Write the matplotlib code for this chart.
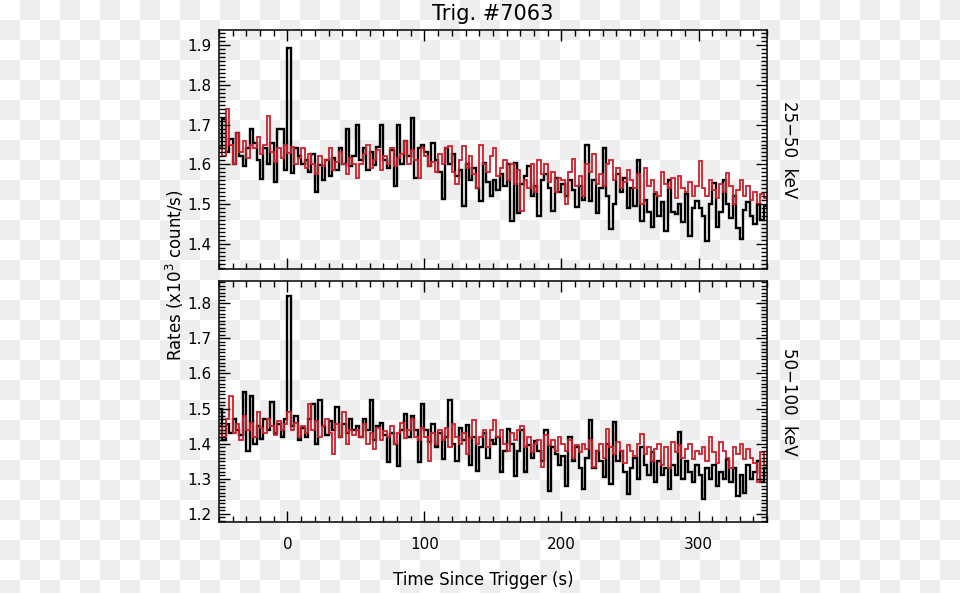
import numpy as np
import matplotlib.pyplot as plt
from matplotlib.ticker import MultipleLocator

# light curve bins: 2.5 s wide, from -50 s to 350 s (rates in 10^3 count/s)
t_start = -50.0
bin_width = 2.5

# 25-50 keV
low_black = [
    1.640, 1.715, 1.630, 1.665, 1.600, 1.680, 1.620, 1.595, 1.640, 1.690, 1.655, 1.610, 1.563, 1.640, 1.600, 1.655, 1.555, 1.690, 1.690, 1.585,
    1.893, 1.578, 1.640, 1.622, 1.600, 1.612, 1.580, 1.625, 1.532, 1.598, 1.560, 1.610, 1.570, 1.615, 1.585, 1.640, 1.600, 1.690, 1.595, 1.620,
    1.700, 1.612, 1.640, 1.585, 1.630, 1.598, 1.645, 1.700, 1.610, 1.590, 1.635, 1.546, 1.700, 1.600, 1.660, 1.620, 1.717, 1.565, 1.640, 1.650,
    1.630, 1.595, 1.654, 1.610, 1.580, 1.512, 1.640, 1.600, 1.625, 1.570, 1.585, 1.496, 1.600, 1.560, 1.590, 1.540, 1.508, 1.604, 1.555, 1.520,
    1.560, 1.535, 1.575, 1.545, 1.600, 1.458, 1.604, 1.479, 1.550, 1.570, 1.596, 1.520, 1.545, 1.470, 1.560, 1.575, 1.540, 1.483, 1.565, 1.530,
    1.550, 1.520, 1.560, 1.535, 1.492, 1.545, 1.510, 1.650, 1.508, 1.560, 1.479, 1.540, 1.642, 1.520, 1.437, 1.500, 1.575, 1.530, 1.565, 1.490,
    1.540, 1.495, 1.612, 1.458, 1.510, 1.480, 1.442, 1.525, 1.470, 1.505, 1.433, 1.562, 1.480, 1.475, 1.500, 1.455, 1.525, 1.421, 1.490, 1.508,
    1.490, 1.470, 1.408, 1.500, 1.554, 1.442, 1.480, 1.560, 1.500, 1.465, 1.520, 1.440, 1.413, 1.485, 1.505, 1.470, 1.450, 1.500, 1.460, 1.495,
]
low_red = [
    1.640, 1.620, 1.740, 1.650, 1.600, 1.680, 1.630, 1.660, 1.615, 1.650, 1.640, 1.670, 1.625, 1.650, 1.721, 1.630, 1.605, 1.640, 1.615, 1.650,
    1.628, 1.645, 1.600, 1.615, 1.640, 1.590, 1.625, 1.600, 1.575, 1.620, 1.595, 1.610, 1.640, 1.585, 1.605, 1.630, 1.600, 1.575, 1.615, 1.600,
    1.565, 1.600, 1.625, 1.650, 1.590, 1.610, 1.635, 1.585, 1.620, 1.600, 1.640, 1.595, 1.615, 1.625, 1.658, 1.600, 1.635, 1.610, 1.566, 1.640,
    1.620, 1.595, 1.605, 1.580, 1.625, 1.600, 1.640, 1.646, 1.580, 1.550, 1.610, 1.646, 1.590, 1.620, 1.575, 1.542, 1.650, 1.600, 1.580, 1.620,
    1.642, 1.570, 1.590, 1.610, 1.560, 1.600, 1.550, 1.585, 1.483, 1.560, 1.540, 1.600, 1.530, 1.612, 1.575, 1.600, 1.555, 1.580, 1.530, 1.565,
    1.560, 1.500, 1.580, 1.613, 1.545, 1.570, 1.520, 1.600, 1.580, 1.625, 1.550, 1.575, 1.545, 1.600, 1.612, 1.560, 1.590, 1.540, 1.555, 1.585,
    1.560, 1.540, 1.575, 1.500, 1.592, 1.545, 1.560, 1.530, 1.520, 1.580, 1.550, 1.540, 1.565, 1.515, 1.570, 1.540, 1.530, 1.555, 1.520, 1.545,
    1.608, 1.540, 1.520, 1.560, 1.535, 1.515, 1.550, 1.530, 1.579, 1.545, 1.500, 1.535, 1.560, 1.520, 1.545, 1.510, 1.530, 1.500, 1.525, 1.515,
]

# 50-100 keV
high_black = [
    1.500, 1.410, 1.455, 1.430, 1.470, 1.440, 1.425, 1.547, 1.380, 1.537, 1.400, 1.450, 1.412, 1.470, 1.440, 1.518, 1.430, 1.455, 1.420, 1.470,
    1.820, 1.450, 1.480, 1.410, 1.445, 1.420, 1.470, 1.513, 1.400, 1.523, 1.450, 1.425, 1.465, 1.440, 1.504, 1.420, 1.455, 1.430, 1.470, 1.440,
    1.450, 1.420, 1.470, 1.440, 1.523, 1.410, 1.450, 1.460, 1.425, 1.347, 1.430, 1.400, 1.337, 1.440, 1.485, 1.420, 1.480, 1.440, 1.347, 1.513,
    1.440, 1.405, 1.456, 1.390, 1.430, 1.356, 1.420, 1.523, 1.400, 1.350, 1.445, 1.410, 1.453, 1.340, 1.420, 1.323, 1.390, 1.430, 1.360, 1.410,
    1.400, 1.420, 1.318, 1.380, 1.442, 1.400, 1.309, 1.380, 1.440, 1.318, 1.395, 1.360, 1.409, 1.380, 1.350, 1.440, 1.266, 1.390, 1.370, 1.340,
    1.365, 1.280, 1.420, 1.350, 1.390, 1.330, 1.270, 1.360, 1.466, 1.330, 1.380, 1.350, 1.304, 1.400, 1.285, 1.461, 1.350, 1.380, 1.320, 1.256,
    1.330, 1.360, 1.300, 1.390, 1.340, 1.310, 1.375, 1.290, 1.350, 1.310, 1.330, 1.270, 1.340, 1.310, 1.432, 1.300, 1.350, 1.320, 1.290, 1.340,
    1.310, 1.242, 1.330, 1.300, 1.340, 1.280, 1.320, 1.300, 1.355, 1.290, 1.330, 1.250, 1.310, 1.260, 1.340, 1.300, 1.320, 1.350, 1.290, 1.330,
]
high_red = [
    1.450, 1.420, 1.470, 1.537, 1.430, 1.455, 1.410, 1.480, 1.440, 1.460, 1.420, 1.490, 1.445, 1.430, 1.470, 1.450, 1.425, 1.465, 1.440, 1.455,
    1.490, 1.440, 1.460, 1.420, 1.450, 1.430, 1.513, 1.440, 1.465, 1.420, 1.450, 1.470, 1.430, 1.370, 1.455, 1.420, 1.490, 1.400, 1.440, 1.425,
    1.440, 1.420, 1.455, 1.400, 1.430, 1.385, 1.445, 1.410, 1.435, 1.420, 1.450, 1.400, 1.430, 1.460, 1.415, 1.440, 1.470, 1.420, 1.410, 1.445,
    1.420, 1.351, 1.430, 1.400, 1.440, 1.410, 1.445, 1.390, 1.456, 1.420, 1.400, 1.430, 1.370, 1.415, 1.466, 1.400, 1.420, 1.440, 1.390, 1.440,
    1.466, 1.420, 1.440, 1.400, 1.380, 1.430, 1.410, 1.440, 1.451, 1.390, 1.420, 1.375, 1.400, 1.410, 1.335, 1.425, 1.395, 1.410, 1.380, 1.420,
    1.400, 1.380, 1.410, 1.360, 1.395, 1.375, 1.400, 1.385, 1.410, 1.333, 1.380, 1.400, 1.360, 1.442, 1.390, 1.370, 1.405, 1.380, 1.345, 1.395,
    1.380, 1.365, 1.400, 1.428, 1.370, 1.390, 1.350, 1.385, 1.400, 1.340, 1.390, 1.332, 1.405, 1.375, 1.395, 1.360, 1.385, 1.400, 1.355, 1.380,
    1.370, 1.390, 1.350, 1.418, 1.375, 1.345, 1.404, 1.380, 1.360, 1.332, 1.390, 1.370, 1.400, 1.355, 1.385, 1.360, 1.345, 1.290, 1.375, 1.340,
]

band_labels = ["25\u221250  keV", "50\u2212100  keV"]
y_limits = [(1.3375, 1.9375), (1.177, 1.863)]
y_ticks = [[1.4, 1.5, 1.6, 1.7, 1.8, 1.9], [1.2, 1.3, 1.4, 1.5, 1.6, 1.7, 1.8]]

red = '#d01f2a'
plt.rcParams['font.family'] = ['DejaVu Sans']

fig = plt.figure(figsize=(9.6, 5.93), dpi=100)

# transparent-background checkerboard seen behind the original picture
yy, xx = np.mgrid[0:593, 0:960]
checker = np.where((xx // 20 + yy // 20) % 2 == 1, 0.933, 1.0)
fig.figimage(checker, cmap='gray', vmin=0, vmax=1, origin='upper', zorder=-1)

ax_top = fig.add_axes([0.228, 0.5464, 0.571, 0.403])
ax_bot = fig.add_axes([0.228, 0.1197, 0.571, 0.4064])

series = [(low_black, low_red), (high_black, high_red)]
for i, ax in enumerate([ax_top, ax_bot]):
    black_vals, red_vals = series[i]
    edges = t_start + bin_width * np.arange(len(black_vals) + 1)
    ax.stairs(black_vals, edges, baseline=None, color='black', lw=1.7)
    ax.stairs(red_vals, edges, baseline=None, color=red, lw=1.3)
    ax.set_facecolor('none')
    ax.set_xlim(-50, 350)
    ax.set_ylim(*y_limits[i])
    ax.set_xticks([0, 100, 200, 300])
    ax.set_yticks(y_ticks[i])
    ax.xaxis.set_minor_locator(MultipleLocator(10))
    ax.yaxis.set_minor_locator(MultipleLocator(0.01))
    ax.tick_params(which='both', direction='in', top=True, right=True, width=1.0, labelsize=11)
    ax.tick_params(which='major', length=8)
    ax.tick_params(which='minor', length=4)
    ax.tick_params(axis='x', pad=11)
    ax.tick_params(axis='y', pad=5)
    for sp in ax.spines.values():
        sp.set_linewidth(1.1)
    ax.text(1.04, 0.5, band_labels[i], transform=ax.transAxes, rotation=-90,
            ha='center', va='center', fontsize=12)

ax_top.tick_params(labelbottom=False)
ax_top.set_title('Trig. #7063', fontsize=15, pad=7)

fig.text(0.182, 0.536, 'Rates (x10$^3$ count/s)', rotation=90, ha='center', va='center', fontsize=12)
fig.text(0.503, 0.022, 'Time Since Trigger (s)', ha='center', va='center', fontsize=12)

fig.savefig('out.png', dpi=100)
